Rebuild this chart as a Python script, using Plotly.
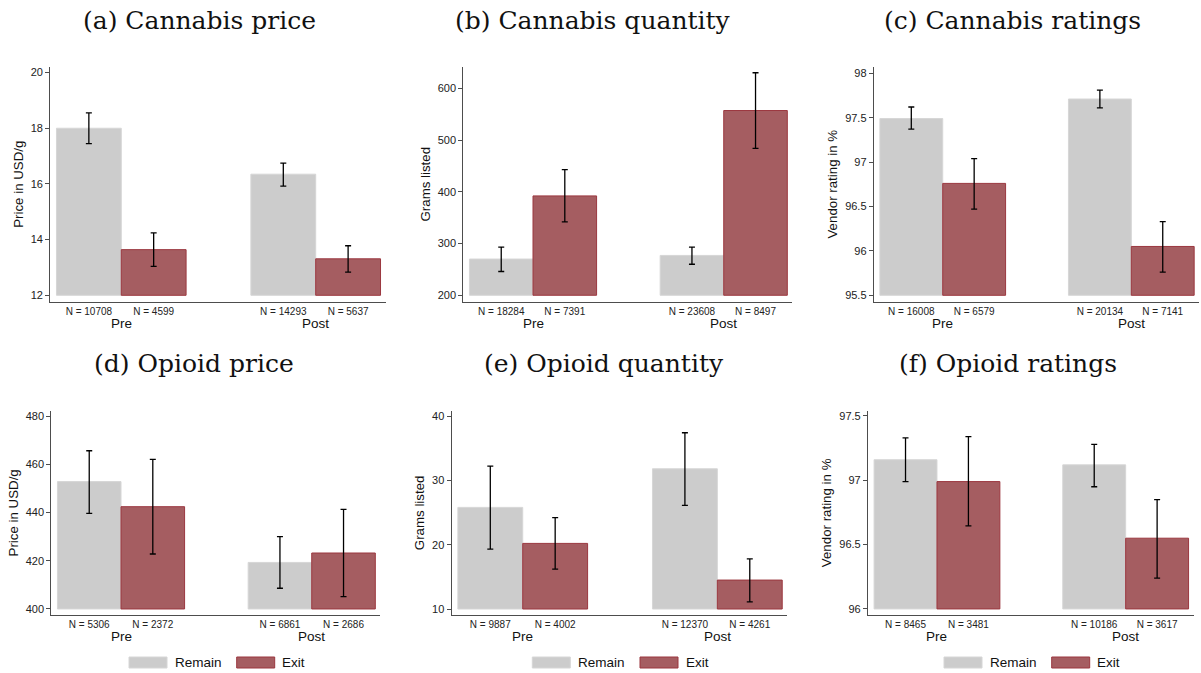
import plotly.graph_objects as go

W, H = 1201, 673

# ---------------- data ----------------
groups = ["Pre", "Post"]
series = ["Remain", "Exit"]

titles = ["(a) Cannabis price", "(b) Cannabis quantity", "(c) Cannabis ratings",
          "(d) Opioid price", "(e) Opioid quantity", "(f) Opioid ratings"]
ytitles = ["Price in USD/g", "Grams listed", "Vendor rating in %",
           "Price in USD/g", "Grams listed", "Vendor rating in %"]

# (a) Cannabis price
a_remain = [18.00, 16.35]; a_remain_lo = [17.45, 15.92]; a_remain_hi = [18.55, 16.75]
a_exit = [13.64, 13.31];   a_exit_lo = [13.04, 12.83];   a_exit_hi = [14.24, 13.78]
a_n_remain = [10708, 14293]; a_n_exit = [4599, 5637]
# (b) Cannabis quantity
b_remain = [270, 277]; b_remain_lo = [246, 260]; b_remain_hi = [293, 293]
b_exit = [392, 557];   b_exit_lo = [342, 484];   b_exit_hi = [443, 630]
b_n_remain = [18284, 23608]; b_n_exit = [7391, 8497]
# (c) Cannabis ratings
c_remain = [97.49, 97.71]; c_remain_lo = [97.37, 97.61]; c_remain_hi = [97.62, 97.81]
c_exit = [96.76, 96.05];   c_exit_lo = [96.47, 95.76];   c_exit_hi = [97.04, 96.33]
c_n_remain = [16008, 20134]; c_n_exit = [6579, 7141]
# (d) Opioid price
d_remain = [452.8, 419.3]; d_remain_lo = [439.6, 408.6]; d_remain_hi = [465.6, 430.0]
d_exit = [442.4, 423.2];   d_exit_lo = [422.8, 405.1];   d_exit_hi = [462.0, 441.3]
d_n_remain = [5306, 6861]; d_n_exit = [2372, 2686]
# (e) Opioid quantity
e_remain = [25.8, 31.8]; e_remain_lo = [19.3, 26.1]; e_remain_hi = [32.2, 37.4]
e_exit = [20.2, 14.5];   e_exit_lo = [16.2, 11.1];   e_exit_hi = [24.2, 17.8]
e_n_remain = [9887, 12370]; e_n_exit = [4002, 4261]
# (f) Opioid ratings
f_remain = [97.16, 97.12]; f_remain_lo = [96.99, 96.95]; f_remain_hi = [97.33, 97.28]
f_exit = [96.99, 96.55];   f_exit_lo = [96.645, 96.24]; f_exit_hi = [97.34, 96.85]
f_n_remain = [8465, 10186]; f_n_exit = [3481, 3617]

# y tick values per panel
a_ticks = [12, 14, 16, 18, 20]
b_ticks = [200, 300, 400, 500, 600]
c_ticks = [95.5, 96, 96.5, 97, 97.5, 98]
d_ticks = [400, 420, 440, 460, 480]
e_ticks = [10, 20, 30, 40]
f_ticks = [96, 96.5, 97, 97.5]

panel_data = [
    (a_remain, a_remain_lo, a_remain_hi, a_exit, a_exit_lo, a_exit_hi, a_n_remain, a_n_exit, a_ticks),
    (b_remain, b_remain_lo, b_remain_hi, b_exit, b_exit_lo, b_exit_hi, b_n_remain, b_n_exit, b_ticks),
    (c_remain, c_remain_lo, c_remain_hi, c_exit, c_exit_lo, c_exit_hi, c_n_remain, c_n_exit, c_ticks),
    (d_remain, d_remain_lo, d_remain_hi, d_exit, d_exit_lo, d_exit_hi, d_n_remain, d_n_exit, d_ticks),
    (e_remain, e_remain_lo, e_remain_hi, e_exit, e_exit_lo, e_exit_hi, e_n_remain, e_n_exit, e_ticks),
    (f_remain, f_remain_lo, f_remain_hi, f_exit, f_exit_lo, f_exit_hi, f_n_remain, f_n_exit, f_ticks),
]

# ---------------- layout settings (pixels) ----------------
x_dom_px = [(50.3, 385.7), (463.4, 792.4), (873.9, 1199.2),
            (51.4, 380.4), (451.7, 787.4), (868.1, 1193.6)]
y_dom_px = [(66.7, 301.7)] * 3 + [(410.7, 615.0)] * 3
y_ranges = [(11.77, 20.21), (187.6, 641.7), (95.428, 98.074),
            (397.5, 482.2), (9.07, 40.83), (95.953, 97.541)]
x_range = (-0.365, 1.36)
title_pos = [(199.7, 20), (593, 20), (1012, 20), (194, 363), (604, 363), (1008, 363)]
grp_label_y = [323.3] * 3 + [636.7] * 3

fill = {"Remain": "rgb(204,204,204)", "Exit": "rgb(165,93,97)"}
edge = {"Remain": "rgb(214,214,214)", "Exit": "rgb(155,55,63)"}
offsets = {"Remain": -1 / 6, "Exit": 1 / 6}
axis_col = "#4d4d4d"
sans = "Liberation Sans, Arial, sans-serif"
serif = "DejaVu Serif, Liberation Serif, serif"

fig = go.Figure()
annotations = []
shapes = []

for k, pdata in enumerate(panel_data):
    rm, rlo, rhi, ex, elo, ehi, nr, ne, ticks = pdata
    base = ticks[0]
    xa = "x" if k == 0 else f"x{k+1}"
    ya = "y" if k == 0 else f"y{k+1}"
    vals = {"Remain": (rm, rlo, rhi, nr), "Exit": (ex, elo, ehi, ne)}
    tickvals, ticktext = [], []
    for s in series:
        m, lo, hi, n = vals[s]
        xs = [i + offsets[s] for i in range(len(groups))]
        fig.add_trace(go.Bar(
            x=xs, y=[v - base for v in m], base=base, width=1 / 3,
            marker=dict(color=fill[s], line=dict(color=edge[s], width=1)),
            name=s, showlegend=False, xaxis=xa, yaxis=ya,
            customdata=m, hovertemplate=s + ": %{customdata}<extra></extra>"))
        fig.add_trace(go.Scatter(
            x=xs, y=m, mode="markers", marker=dict(size=1, opacity=0),
            error_y=dict(type="data", symmetric=False,
                         array=[h - v for h, v in zip(hi, m)],
                         arrayminus=[v - l for v, l in zip(m, lo)],
                         color="black", thickness=1.3, width=3),
            showlegend=False, hoverinfo="skip", xaxis=xa, yaxis=ya))
        tickvals += xs
        ticktext += [f"N = {v}" for v in n]

    xd = x_dom_px[k]
    yd = y_dom_px[k]
    fig.layout[("xaxis" if k == 0 else f"xaxis{k+1}")] = dict(
        domain=[xd[0] / W, xd[1] / W], range=list(x_range), anchor=ya,
        showline=True, linecolor=axis_col, linewidth=1.3, showgrid=False,
        zeroline=False, ticks="", tickvals=tickvals, ticktext=ticktext,
        tickfont=dict(family=sans, size=10, color="#222"), fixedrange=True)
    fig.layout[("yaxis" if k == 0 else f"yaxis{k+1}")] = dict(
        domain=[1 - yd[1] / H, 1 - yd[0] / H], range=list(y_ranges[k]), anchor=xa,
        showline=True, linecolor=axis_col, linewidth=1.3, showgrid=False,
        zeroline=False, ticks="outside", ticklen=4, tickwidth=1, tickcolor=axis_col,
        tickvals=ticks, ticktext=[f"{t:g}" for t in ticks],
        tickfont=dict(family=sans, size=11, color="#222"),
        title=dict(text=ytitles[k], font=dict(family=sans, size=13.3, color="#111"),
                   standoff=4),
        fixedrange=True)

    # group labels (Pre / Post)
    for i, g in enumerate(groups):
        annotations.append(dict(
            x=i, xref=xa, y=1 - grp_label_y[k] / H, yref="paper",
            text=g, showarrow=False, xanchor="center", yanchor="middle",
            font=dict(family=sans, size=13.5, color="#111")))

    # panel titles
    tx, ty = title_pos[k]
    annotations.append(dict(
        x=tx / W, y=1 - ty / H, xref="paper", yref="paper", text=titles[k],
        showarrow=False, xanchor="center", yanchor="middle",
        font=dict(family=serif, size=25, color="#111")))

# legends drawn under each bottom panel
legend_starts = [129, 532.3, 944]
leg_y0, leg_y1 = 657, 668
sw_w = 38
text_gap = 5.5
item_step = {"Remain": 107.7, "Exit": 0}
for x0 in legend_starts:
    cx = x0
    for s in series:
        shapes.append(dict(type="rect", xref="paper", yref="paper",
                           x0=cx / W, x1=(cx + sw_w) / W,
                           y0=1 - leg_y1 / H, y1=1 - leg_y0 / H,
                           fillcolor=fill[s], line=dict(color=edge[s], width=1)))
        annotations.append(dict(
            x=(cx + sw_w + text_gap) / W, y=1 - (leg_y0 + leg_y1) / 2 / H,
            xref="paper", yref="paper", text=s, showarrow=False,
            xanchor="left", yanchor="middle",
            font=dict(family=sans, size=13.5, color="#111")))
        cx += item_step[s]

fig.update_layout(
    width=W, height=H, margin=dict(l=0, r=0, t=0, b=0),
    paper_bgcolor="white", plot_bgcolor="white",
    barmode="overlay", showlegend=False,
    annotations=annotations, shapes=shapes)

fig.write_html("out.html", config={"displayModeBar": False},
               post_script="document.body.style.margin='0';document.body.style.overflow='hidden';")
